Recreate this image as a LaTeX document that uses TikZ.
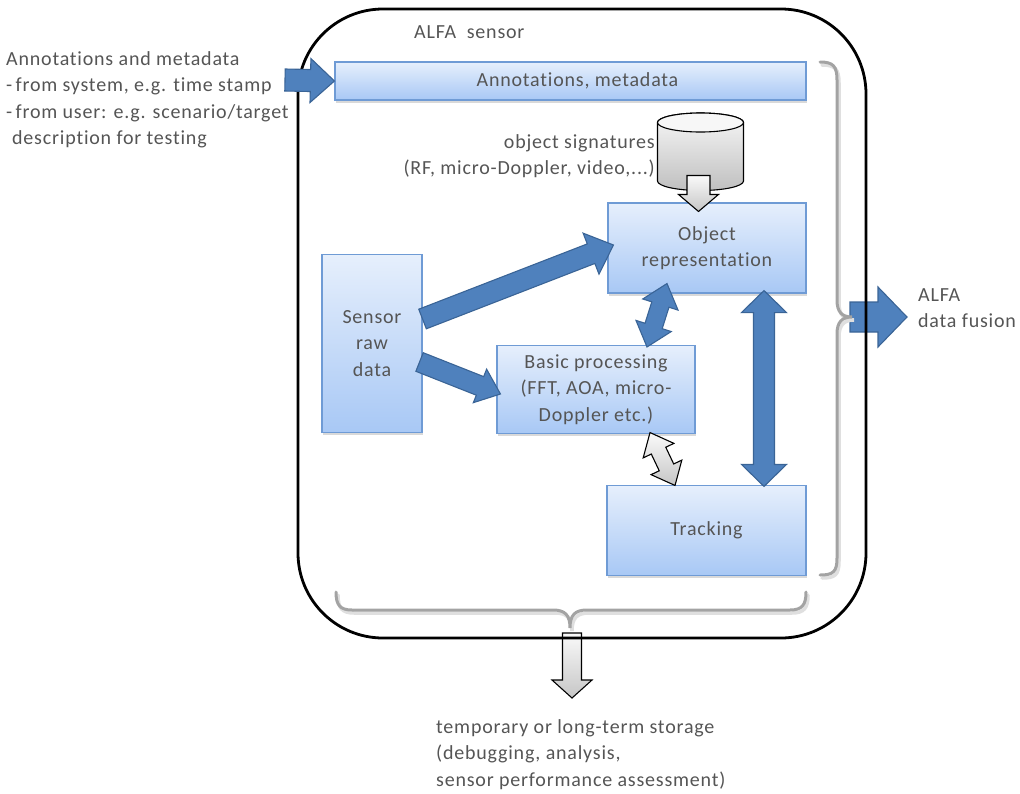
\documentclass[tikz,border=0pt]{standalone}
\usepackage{fontspec}
\setmainfont{Carlito}[LetterSpace=4,Ligatures=NoCommon]
\usetikzlibrary{calc,shadows}
\definecolor{txt}{HTML}{555555}
\definecolor{boxtop}{HTML}{E6EFFC}
\definecolor{boxbot}{HTML}{A8C8F5}
\definecolor{boxdraw}{HTML}{6F9BD5}
\definecolor{arrfill}{HTML}{4F81BD}
\definecolor{arrdraw}{HTML}{3A6496}
\definecolor{bracegray}{HTML}{A3A3A3}
\newcommand{\fatarr}[6]{%
  \coordinate (fahd) at ($(#3)!#6!(#2)$);
  \path[#1] ($(#2)!#4!90:(#3)$) -- ($(fahd)!#4!90:(#3)$) -- ($(fahd)!#5!90:(#3)$) -- (#3)
    -- ($(fahd)!#5!-90:(#3)$) -- ($(fahd)!#4!-90:(#3)$) -- ($(#2)!#4!-90:(#3)$) -- cycle;}
\newcommand{\dblarr}[6]{%
  \coordinate (dhb) at ($(#3)!#6!(#2)$);
  \coordinate (dha) at ($(#2)!#6!(#3)$);
  \path[#1] (#2) -- ($(dha)!#5!90:(#3)$) -- ($(dha)!#4!90:(#3)$) -- ($(dhb)!#4!90:(#3)$)
    -- ($(dhb)!#5!90:(#3)$) -- (#3) -- ($(dhb)!#5!-90:(#3)$) -- ($(dhb)!#4!-90:(#3)$)
    -- ($(dha)!#4!-90:(#3)$) -- ($(dha)!#5!-90:(#3)$) -- cycle;}
\begin{document}
\begin{tikzpicture}[x=1pt,y=-1pt,
  every node/.style={font=\fontsize{20}{26.5}\selectfont, text=txt, inner sep=0pt},
  box/.style={draw=boxdraw, line width=1.1pt, top color=boxtop, bottom color=boxbot,
    drop shadow={shadow xshift=1pt,shadow yshift=-2.5pt,opacity=0.3}, align=center},
  bluearr/.style={draw=arrdraw, line width=1.1pt, fill=arrfill, line join=miter},
  grayarr/.style={draw=black, line width=1.1pt, top color=gray!4, bottom color=gray!45, line join=miter},
  bracepath/.style={draw=bracegray, line width=3pt, line cap=round},
  braceshadow/.style={draw=gray!25, line width=3.5pt, line cap=round},
  frame/.style={draw=black, line width=2.8pt, rounded corners=85pt},
  lbl/.style={align=left}]
\useasboundingbox (0,0) rectangle (1020,793);

% arrows that lie under the frame
\coordinate (bracetip) at (850,317);
\coordinate (fusiontip) at (907,317);
\coordinate (bracebot) at (572,633);
\coordinate (storetip) at (572,698);
\fatarr{bluearr}{bracetip}{fusiontip}{15pt}{30pt}{29pt}
\fatarr{grayarr}{bracebot}{storetip}{9.5pt}{20pt}{18pt}

% frame
\draw[frame] (298,9) rectangle (866,638);
\node[anchor=west] (title) at (414,32) {ALFA\ \ sensor};

% braces
\draw[braceshadow] (822,65) .. controls (835,65) and (839,69) .. (839,83) -- (839,303)
  .. controls (839,315) and (844,320) .. (854,320) .. controls (844,320) and (839,325) .. (839,337)
  -- (839,561) .. controls (839,575) and (835,578) .. (822,578);
\draw[bracepath] (820,62) .. controls (833,62) and (837,66) .. (837,80) -- (837,300)
  .. controls (837,312) and (842,317) .. (852,317) .. controls (842,317) and (837,322) .. (837,334)
  -- (837,558) .. controls (837,572) and (833,575) .. (820,575);
\draw[braceshadow] (338,595) .. controls (338,608) and (342,613) .. (354,613) -- (555,613)
  .. controls (567,613) and (572,618) .. (572,631) .. controls (572,618) and (577,613) .. (589,613)
  -- (792,613) .. controls (804,613) and (808,608) .. (808,595);
\draw[bracepath] (336,592) .. controls (336,605) and (340,610) .. (352,610) -- (553,610)
  .. controls (565,610) and (570,615) .. (570,628) .. controls (570,615) and (575,610) .. (587,610)
  -- (790,610) .. controls (802,610) and (806,605) .. (806,592);

% boxes
\node[box, minimum width=471pt, minimum height=38pt] (ann) at (570.5,81) {\hspace*{14pt}Annotations, metadata};
\node[box, minimum width=198pt, minimum height=90pt] (obj) at (707,248) {Object\\representation};
\node[box, minimum width=100pt, minimum height=178pt] (raw) at (372,343.5) {Sensor\\raw\\data};
\node[box, minimum width=198pt, minimum height=88pt] (bas) at (596,389.5) {Basic processing\\(FFT, AOA, micro-\\Doppler etc.)};
\node[box, minimum width=199pt, minimum height=90pt] (trk) at (706.5,530.5) {Tracking};

% database cylinder
\path[draw=black, line width=1.1pt, top color=gray!6, bottom color=gray!50]
  (657.5,122.5) -- (657.5,181) arc[start angle=180, end angle=360, x radius=43pt, y radius=9.5pt]
  -- (743.5,122.5) arc[start angle=0, end angle=180, x radius=43pt, y radius=9.5pt] -- cycle;
\draw[line width=1.1pt, fill=gray!6] (700.5,122.5) ellipse [x radius=43pt, y radius=9.5pt];

% labels
\node[lbl, anchor=west] (annlbl) at (6,100) {Annotations and metadata\\-\,from system, e.g. time stamp\\-\,from user: e.g. scenario/target\\\hspace*{6pt}description for testing};
\node[align=right, anchor=east] (siglbl) at (655,156) {object signatures\\(RF, micro-Doppler, video,...)};
\node[lbl, anchor=west] (fusion) at (918,308) {ALFA\\data fusion};
\node[lbl, anchor=west] (store) at (436,754.5) {temporary or long-term storage\\(debugging, analysis,\\sensor performance assessment)};

% connectors
\coordinate (annin) at (285,80);
\fatarr{bluearr}{annin}{ann.west}{11pt}{22pt}{24pt}
\coordinate (dbout) at ($(obj.north)+(-8.5,-27)$);
\coordinate (dbtip) at ($(obj.north)+(-8.5,9)$);
\fatarr{grayarr}{dbout}{dbtip}{11.5pt}{20pt}{17pt}
\coordinate (raw1) at ($(raw.east)+(0,-24.5)$);
\coordinate (obj1) at ($(obj.west)+(6,-3)$);
\fatarr{bluearr}{raw1}{obj1}{10.5pt}{22pt}{24pt}
\coordinate (raw2) at ($(raw.east)+(-3,18.5)$);
\coordinate (bas1) at ($(bas.west)+(4,4.5)$);
\fatarr{bluearr}{raw2}{bas1}{10pt}{18pt}{22pt}
\coordinate (obj2) at ($(obj.south)+(-40,-10)$);
\coordinate (bas2) at ($(bas.north)+(51,2)$);
\dblarr{bluearr}{obj2}{bas2}{9pt}{18.5pt}{22pt}
\coordinate (obj3) at ($(obj.south)+(57,-3)$);
\coordinate (trk1) at ($(trk.north)+(57.5,1.5)$);
\dblarr{bluearr}{obj3}{trk1}{10.5pt}{22.5pt}{22pt}
\coordinate (bas3) at ($(bas.south)+(54,-1.5)$);
\coordinate (trk2) at ($(trk.north)+(-31.5,0.5)$);
\dblarr{grayarr}{bas3}{trk2}{8pt}{17pt}{20pt}
\end{tikzpicture}
\end{document}
